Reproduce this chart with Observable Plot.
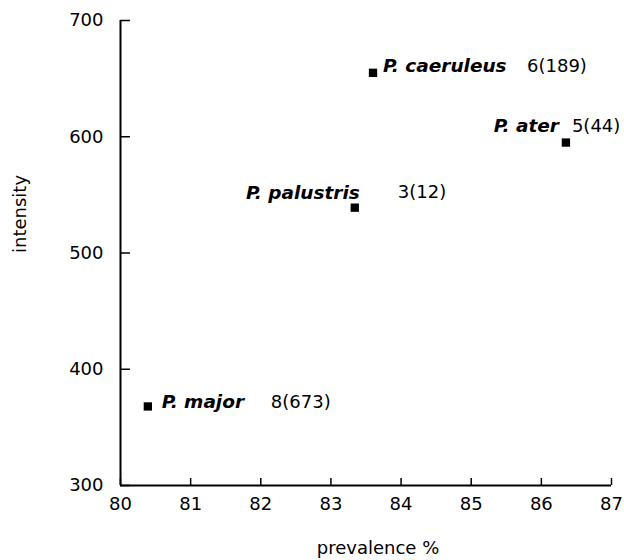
<!DOCTYPE html>
<html>
<head>
<meta charset="utf-8">
<script src="https://cdn.jsdelivr.net/npm/d3@7"></script>
<script src="https://cdn.jsdelivr.net/npm/@observablehq/plot@0.6"></script>
<style>
  html, body { margin: 0; padding: 0; background: #fff; }
  #chart { width: 624px; height: 560px; }
  svg { font-family: "DejaVu Sans", Verdana, sans-serif; }
</style>
</head>
<body>
<div id="chart"></div>
<script>
// Data
const species = ["P. caeruleus", "P. ater", "P. palustris", "P. major"];
const prevalence = [83.6, 86.35, 83.34, 80.39];
const intensity = [655, 595, 539, 368];
const counts = ["6(189)", "5(44)", "3(12)", "8(673)"];

const xTicks = [80, 81, 82, 83, 84, 85, 86, 87];
const yTicks = [300, 400, 500, 600, 700];
const xLabel = "prevalence %";
const yLabel = "intensity";

// label placement per point (offsets relative to marker, in px)
const nameAnchor = ["start", "end", "end", "start"];
const nameDx = [10, -7, 5, 14];
const nameDy = [-7, -16, -15, -4];
const countDx = [154, 6, 43, 123];

const data = species.map((s, i) => ({
  species: s, x: prevalence[i], y: intensity[i], count: counts[i],
  anchor: nameAnchor[i], ndx: nameDx[i], ndy: nameDy[i], cdx: countDx[i]
}));

const nameMarks = data.map(d => Plot.text([d], {
  x: "x", y: "y", text: "species", textAnchor: d.anchor,
  dx: d.ndx, dy: d.ndy, fontSize: 18.5, fontWeight: "bold", fontStyle: "italic", fill: "black"
}));
const countMarks = data.map(d => Plot.text([d], {
  x: "x", y: "y", text: "count", textAnchor: "start",
  dx: d.cdx, dy: d.ndy, fontSize: 18, fill: "black"
}));

const chart = Plot.plot({
  width: 624,
  height: 560,
  marginLeft: 120,
  marginRight: 13,
  marginTop: 20,
  marginBottom: 75,
  style: { fontFamily: "DejaVu Sans, Verdana, sans-serif", background: "white" },
  x: { domain: [80, 87] },
  y: { domain: [300, 700] },
  marks: [
    Plot.axisX({ ticks: xTicks, tickSize: -7, tickPadding: 19, fontSize: 18, label: null, strokeWidth: 1.5, tickFormat: d => String(d) }),
    Plot.axisY({ ticks: yTicks, tickSize: -10, tickPadding: 27, fontSize: 18, label: null, strokeWidth: 1.5, tickFormat: d => String(d) }),
    Plot.ruleX([80], { stroke: "black", strokeWidth: 2 }),
    Plot.ruleY([300], { stroke: "black", strokeWidth: 2 }),
    Plot.text([xLabel], { frameAnchor: "bottom", dy: 68, dx: 12, fontSize: 18, fill: "black" }),
    Plot.text([yLabel], { frameAnchor: "left", dx: -100, rotate: -90, fontSize: 18, fill: "black" }),
    Plot.dot(data, { x: "x", y: "y", symbol: "square", r: 4.7, fill: "black", stroke: "none" }),
    ...nameMarks,
    ...countMarks
  ]
});
document.getElementById("chart").appendChild(chart);
</script>
</body>
</html>
